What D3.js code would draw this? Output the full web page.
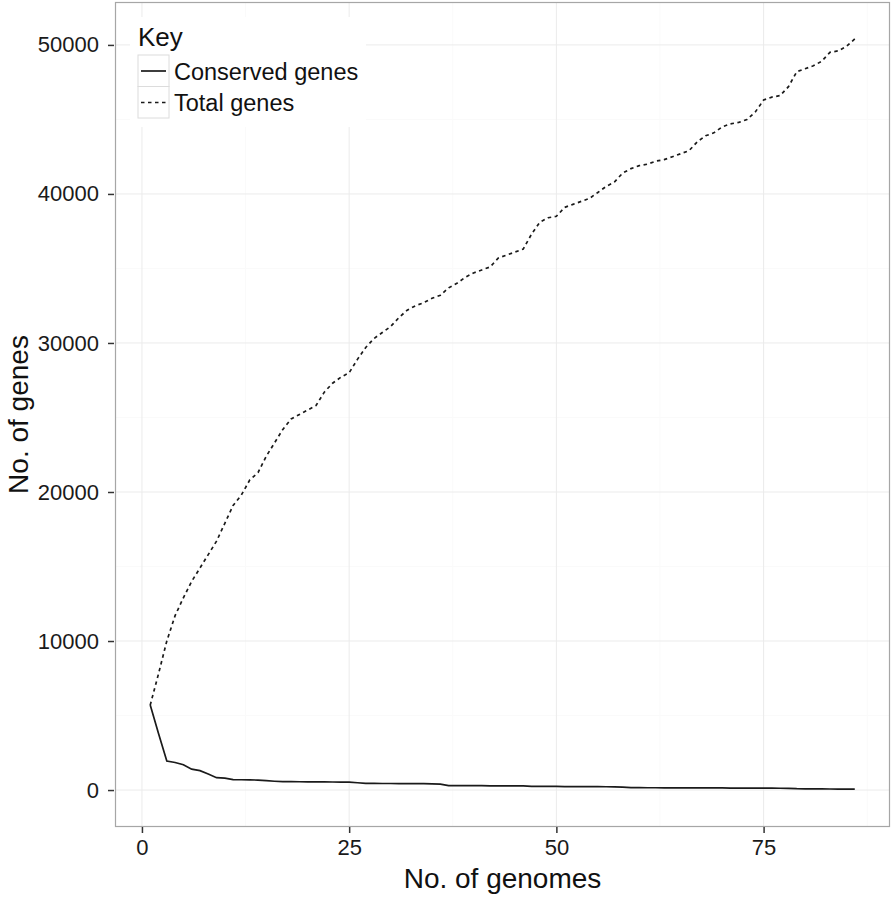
<!DOCTYPE html>
<html>
<head>
<meta charset="utf-8">
<script src="https://cdn.jsdelivr.net/npm/d3@7"></script>
<style>
  html, body { margin: 0; padding: 0; background: #fff; }
  svg { display: block; font-family: "Liberation Sans", Arial, Helvetica, sans-serif; }
</style>
</head>
<body>
<svg id="chart" width="894" height="900"></svg>
<script>
// ---- data ----
const genomes = d3.range(1, 87);
const conservedGenes = [5700,3800,1950,1850,1700,1400,1300,1080,830,800,
  700,690,680,670,630,590,560,560,555,550,
  550,545,540,535,530,490,450,445,440,440,
  435,430,430,425,420,400,300,295,295,290,
  290,285,285,280,280,275,245,245,240,240,
  235,230,230,225,225,220,215,200,160,160,
  155,155,150,150,150,145,145,140,140,140,
  135,135,130,130,130,125,120,110,90,85,
  80,75,70,65,60,55];
const totalGenes = [5700,7800,10000,11700,12900,14000,14900,15800,16700,17900,
  19100,19800,20800,21300,22400,23300,24200,24900,25200,25500,
  25800,26700,27300,27700,28000,28900,29700,30300,30700,31100,
  31700,32200,32500,32700,33000,33200,33700,34000,34400,34700,
  34900,35100,35700,35900,36100,36300,37300,38100,38400,38500,
  39100,39300,39500,39700,40100,40500,40800,41400,41700,41900,
  42000,42200,42300,42500,42700,42900,43500,43900,44100,44500,
  44700,44800,45000,45500,46300,46500,46600,47200,48200,48400,
  48600,48900,49500,49600,49900,50400];
const xTicks = [0, 25, 50, 75];
const yTicks = [0, 10000, 20000, 30000, 40000, 50000];
const xMinor = [12.5, 37.5, 62.5, 87.5];
const yMinor = [5000, 15000, 25000, 35000, 45000];
const seriesNames = ["Conserved genes", "Total genes"];
const legendTitle = "Key";
const xTitle = "No. of genomes";
const yTitle = "No. of genes";

// ---- layout ----
const svg = d3.select("#chart");
const P = { left: 115, right: 890, top: 2, bottom: 827 };
const x = d3.scaleLinear().domain([-3.25, 90.25]).range([P.left, P.right]);
const y = d3.scaleLinear().domain([-2480, 52880]).range([P.bottom, P.top]);

// panel background
svg.append("rect").attr("x", P.left).attr("y", P.top)
  .attr("width", P.right - P.left).attr("height", P.bottom - P.top).attr("fill", "#fff");

// minor grid
const grid = svg.append("g");
grid.selectAll(".xm").data(xMinor).join("line")
  .attr("x1", d => x(d)).attr("x2", d => x(d)).attr("y1", P.top).attr("y2", P.bottom)
  .attr("stroke", "#fafafa").attr("stroke-width", 1);
grid.selectAll(".ym").data(yMinor).join("line")
  .attr("y1", d => y(d)).attr("y2", d => y(d)).attr("x1", P.left).attr("x2", P.right)
  .attr("stroke", "#fafafa").attr("stroke-width", 1);
// major grid
grid.selectAll(".xg").data(xTicks).join("line")
  .attr("x1", d => x(d)).attr("x2", d => x(d)).attr("y1", P.top).attr("y2", P.bottom)
  .attr("stroke", "#ebebeb").attr("stroke-width", 1);
grid.selectAll(".yg").data(yTicks).join("line")
  .attr("y1", d => y(d)).attr("y2", d => y(d)).attr("x1", P.left).attr("x2", P.right)
  .attr("stroke", "#ebebeb").attr("stroke-width", 1);

// lines
const lineGen = vals => d3.line().x((d, i) => x(genomes[i])).y(d => y(d))(vals);
svg.append("path").attr("d", lineGen(totalGenes))
  .attr("fill", "none").attr("stroke", "#1a1a1a").attr("stroke-width", 1.7)
  .attr("stroke-dasharray", "3.5,3.5");
svg.append("path").attr("d", lineGen(conservedGenes))
  .attr("fill", "none").attr("stroke", "#1a1a1a").attr("stroke-width", 1.7);

// panel border
svg.append("rect").attr("x", P.left + 0.5).attr("y", P.top + 0.5)
  .attr("width", P.right - P.left - 1).attr("height", P.bottom - P.top - 1)
  .attr("fill", "none").attr("stroke", "#a6a6a6").attr("stroke-width", 1.2);

// axes
const xAxis = svg.append("g").attr("transform", `translate(0,${P.bottom})`)
  .call(d3.axisBottom(x).tickValues(xTicks).tickSize(6).tickPadding(6).tickFormat(d3.format("d")));
const yAxis = svg.append("g").attr("transform", `translate(${P.left - 1},0)`)
  .call(d3.axisLeft(y).tickValues(yTicks).tickSize(6).tickPadding(9).tickFormat(d3.format("d")));
[xAxis, yAxis].forEach(a => {
  a.select(".domain").remove();
  a.selectAll(".tick line").attr("stroke", "#333").attr("stroke-width", 1.5);
  a.selectAll(".tick text").attr("fill", "#1a1a1a").attr("font-size", 22)
    .attr("font-family", "Liberation Sans, Arial, sans-serif");
});

// axis titles
svg.append("text").attr("x", (P.left + P.right) / 2).attr("y", 888)
  .attr("text-anchor", "middle").attr("font-size", 28).attr("fill", "#111").text(xTitle);
svg.append("text").attr("transform", `translate(28,${(P.top + P.bottom) / 2}) rotate(-90)`)
  .attr("text-anchor", "middle").attr("font-size", 28).attr("fill", "#111").text(yTitle);

// legend
const lg = svg.append("g");
lg.append("rect").attr("x", 130).attr("y", 17).attr("width", 236).attr("height", 110).attr("fill", "#fff");
lg.append("text").attr("x", 138).attr("y", 46).attr("font-size", 26).attr("fill", "#111").text(legendTitle);
seriesNames.forEach((name, i) => {
  const top = 55 + i * 31.5;
  lg.append("rect").attr("x", 138).attr("y", top).attr("width", 31).attr("height", 31.5)
    .attr("fill", "#fff").attr("stroke", "#dcdcdc").attr("stroke-width", 1);
  lg.append("line").attr("x1", 141).attr("x2", 166).attr("y1", top + 16).attr("y2", top + 16)
    .attr("stroke", "#1a1a1a").attr("stroke-width", 1.7)
    .attr("stroke-dasharray", i === 1 ? "3.5,3.5" : null);
  lg.append("text").attr("x", 174).attr("y", top + 24.5).attr("font-size", 23.5)
    .attr("fill", "#111").text(name);
});
</script>
</body>
</html>
